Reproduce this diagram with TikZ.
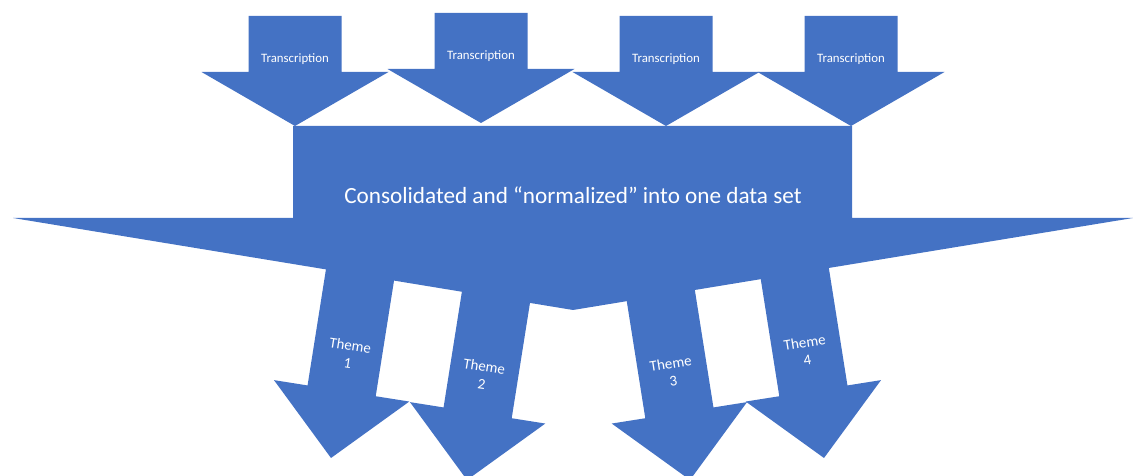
\documentclass[tikz,border=0pt]{standalone}
\usepackage{fontspec}
\setmainfont{Carlito}
\definecolor{office}{HTML}{4472C4}
\tikzset{
transcript/.pic={
  \fill[office] (0,0) -- (-93.5,54) -- (-46.5,54) -- (-46.5,110) --
        (46.5,110) -- (46.5,54) -- (93.5,54) -- cycle;
  },
themearrow/.pic={
  \fill[office] (0,0) -- (-68.5,68) -- (-34.5,68) -- (-34.5,190) --
        (34.5,190) -- (34.5,68) -- (68.5,68) -- cycle;
  },
arrowtext/.style={text=white, inner sep=0pt, align=center}
}
\begin{document}
\begin{tikzpicture}[x=0.02cm, y=0.02cm]
\useasboundingbox (0,0) rectangle (1133,476);
\begin{scope}
\clip (0,0) rectangle (1133,476);
  \pic[rotate=-9] at (331,18) {themearrow};
  \pic[rotate=-9] at (467,-4) {themearrow};
  \pic[rotate=9] at (690,-4) {themearrow};
  \pic[rotate=9] at (824,18) {themearrow};
\end{scope}
\fill[office] (293,350) -- (852,350) -- (852,258) -- (1133,258) --
      (573,166) -- (13,258) -- (293,258) -- cycle;
  \pic at (295,350) {transcript};
  \pic at (481,353) {transcript};
  \pic at (666,350) {transcript};
  \pic at (851,350) {transcript};
\node[arrowtext, font=\fontsize{7.3}{9}\selectfont] (trans1) at (295,417) {Transcription};
\node[arrowtext, font=\fontsize{7.3}{9}\selectfont] (trans2) at (481,420) {Transcription};
\node[arrowtext, font=\fontsize{7.3}{9}\selectfont] (trans3) at (666,417) {Transcription};
\node[arrowtext, font=\fontsize{7.3}{9}\selectfont] (trans4) at (851,417) {Transcription};
\node[arrowtext, font=\fontsize{13.2}{16}\selectfont] (merged) at (573,281)
      {Consolidated and “normalized” into one data set};
\node[arrowtext, rotate=-9, font=\fontsize{8.5}{10}\selectfont] (theme1) at (349,122) {Theme\\1};
\node[arrowtext, rotate=-9, font=\fontsize{8.5}{10}\selectfont] (theme2) at (483,101) {Theme\\2};
\node[arrowtext, rotate=9, font=\fontsize{8.5}{10}\selectfont] (theme3) at (672,104) {Theme\\3};
\node[arrowtext, rotate=9, font=\fontsize{8.5}{10}\selectfont] (theme4) at (806,125) {Theme\\4};
\end{tikzpicture}
\end{document}
